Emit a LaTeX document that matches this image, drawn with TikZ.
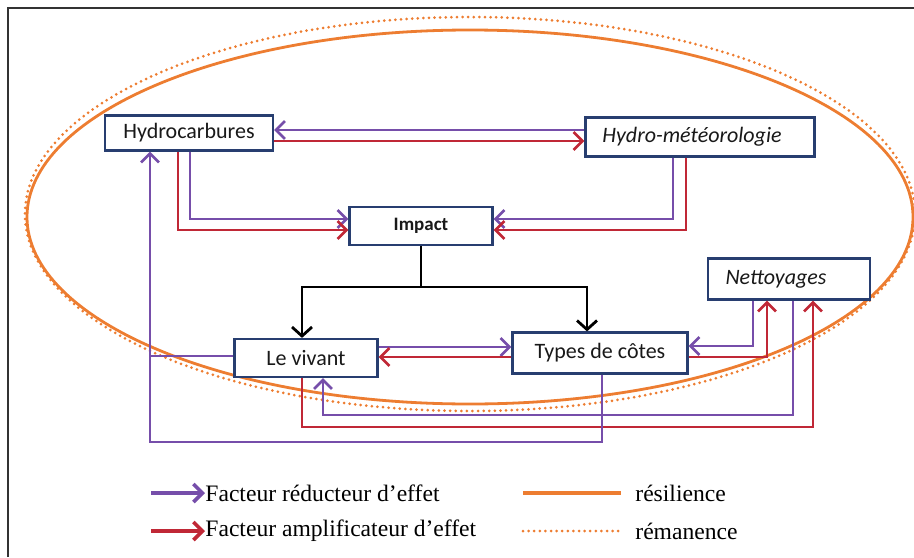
\documentclass[tikz,border=0pt]{standalone}
\usepackage{fontspec}
\setmainfont{Liberation Serif}
\newfontfamily\boxfont{Carlito}
\usepackage{xcolor}
\usetikzlibrary{arrows.meta}
\definecolor{qPurple}{RGB}{118, 78, 170}
\definecolor{qRed}{RGB}{192, 40, 54}
\definecolor{qOrange}{RGB}{237, 125, 49}
\definecolor{qNavy}{RGB}{40, 62, 112}

\tikzset{
  boxnode/.style={draw=qNavy, line width=1.1pt, fill=white, inner sep=0pt,
                  font=\boxfont\fontsize{11}{13}\selectfont, text=black!90},
  reduc/.style={draw=qPurple, line width=1.3pt, -{Straight Barb[length=4.5pt, width=9pt]}},
  ampli/.style={draw=qRed, line width=1.3pt, -{Straight Barb[length=4.5pt, width=9pt]}},
  reduclink/.style={draw=qPurple, line width=1.3pt},
  impactarrow/.style={draw=black, line width=1.4pt, -{Straight Barb[length=4.5pt, width=10pt]}},
  legendtext/.style={font=\fontsize{11.8}{14}\selectfont, anchor=west, inner sep=0pt},
  resil/.style={draw=qOrange, line width=1.4pt},
  reman/.style={draw=qOrange, line width=1.5pt, line cap=round, dash pattern=on 0pt off 2.8pt}
}

\begin{document}
\begin{tikzpicture}[x=0.5pt, y=-0.5pt]
  \useasboundingbox (0,0) rectangle (914,557);
  \draw[line width=1.2pt, black!80] (8,557) -- (8,8) -- (914,8);

  % resilience / remanence
  \draw[resil] (470,217) ellipse [x radius=443, y radius=187];
  \draw[reman] (470,214) ellipse [x radius=445, y radius=197];

  \node[boxnode, minimum width=84pt, minimum height=17.5pt] (hydro) at (189,133) {Hydrocarbures};
  \node[boxnode, minimum width=114.5pt, minimum height=19.5pt, font=\boxfont\itshape\fontsize{11}{13}\selectfont] (meteo) at (700,137) {Hydro-météorologie\kern8pt};
  \node[boxnode, minimum width=71.5pt, minimum height=19pt, font=\boxfont\bfseries\fontsize{9.5}{11}\selectfont] (impact) at (421,226) {Impact};
  \node[boxnode, minimum width=81pt, minimum height=20.5pt, font=\boxfont\itshape\fontsize{11}{13}\selectfont] (nett) at (789,279) {Nettoyages\kern13pt};
  \node[boxnode, minimum width=71.5pt, minimum height=19pt] (vivant) at (306,358) {Le vivant};
  \node[boxnode, minimum width=87.5pt, minimum height=20.5pt] (cotes) at (600,353) {Types de côtes};

  % top loops
  \draw[reduc] (meteo.west |- 0,130) -- (hydro.east |- 0,130);
  \draw[ampli] (hydro.east |- 0,141) -- (meteo.west |- 0,141);
  \draw[reduc] (hydro.south -| 190,0) |- (impact.west |- 0,219);
  \draw[ampli] (hydro.south -| 178,0) |- (impact.west |- 0,230);
  \draw[reduc] (meteo.south -| 673,0) |- (impact.east |- 0,219);
  \draw[ampli] (meteo.south -| 686,0) |- (impact.east |- 0,230);

  % impact split
  \coordinate (split) at (impact.south |- 0,287);
  \draw[impactarrow] (impact.south) -- (split) -| (vivant.north -| 302,0);
  \draw[impactarrow] (split) -| (cotes.north -| 587,0);

  % middle row
  \draw[reduc] (vivant.east |- 0,347) -- (cotes.west |- 0,347);
  \draw[ampli] (cotes.west |- 0,357) -- (vivant.east |- 0,357);
  \draw[reduc] (nett.south -| 753,0) |- (cotes.east |- 0,346);
  \draw[ampli] (cotes.east |- 0,357) -| (nett.south -| 767,0);

  % bottom loops
  \draw[reduc] (nett.south -| 793,0) -- (793,415) -| (vivant.south -| 323,0);
  \draw[ampli] (vivant.south -| 302,0) -- (302,427) -| (nett.south -| 813,0);
  \draw[reduc] (cotes.south -| 602,0) -- (602,442) -| (hydro.south -| 150,0);
  \draw[reduclink] (vivant.west |- 0,356) -- (150,356);

  % legend
  \node[legendtext] (lreduc) at (205,493) {Facteur réducteur d’effet};
  \node[legendtext] (lampli) at (205,531) {Facteur amplificateur d’effet};
  \node[legendtext] (lresil) at (635,493) {résilience};
  \node[legendtext] (lreman) at (635,531) {rémanence};
  \draw[reduc, line width=1.8pt] ([xshift=-27pt]lreduc.west) -- (lreduc.west);
  \draw[ampli, line width=1.8pt] ([xshift=-27pt]lampli.west) -- (lampli.west);
  \draw[resil, line width=2pt] ([xshift=-56pt]lresil.west) -- ([xshift=-7pt]lresil.west);
  \draw[reman] ([xshift=-56pt]lreman.west) -- ([xshift=-7pt]lreman.west);
\end{tikzpicture}
\end{document}
